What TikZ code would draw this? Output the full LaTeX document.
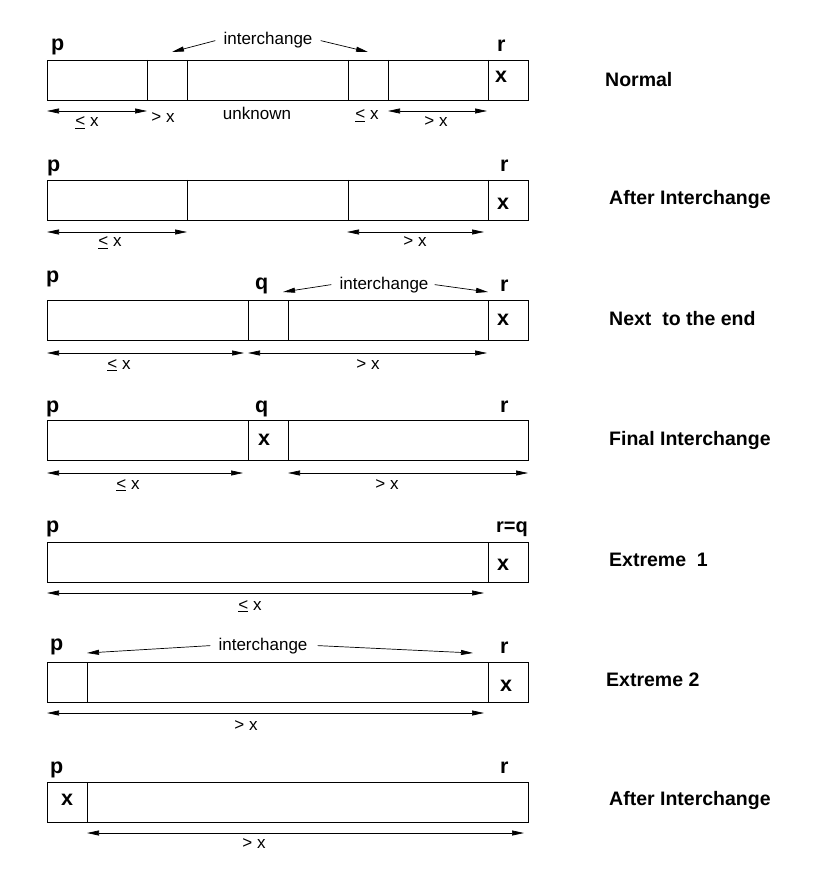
\documentclass[tikz,border=0pt]{standalone}
\usepackage{fontspec}
\setmainfont{Liberation Sans}
\usetikzlibrary{arrows.meta}

\tikzset{
  cellrow/.style={draw, line width=0.8pt},
  lbl/.style={font=\fontsize{21.5}{23}\selectfont\bfseries, inner sep=0pt, anchor=base west},
  cellx/.style={font=\fontsize{21.5}{23}\selectfont\bfseries, inner sep=0pt, anchor=base},
  note/.style={font=\fontsize{17}{19}\selectfont, inner sep=0pt, anchor=base},
  caption/.style={font=\fontsize{19.5}{22}\selectfont\bfseries, inner sep=0pt, anchor=base west},
  dim/.style={<->, line width=0.7pt},
  swap/.style={->, line width=0.7pt},
}
\newcommand{\lessq}{\underline{<}}

\begin{document}
\begin{tikzpicture}[x=1pt, y=-1pt, >={Triangle[length=12pt, width=5pt]}]
	\useasboundingbox (0,0) rectangle (827,882);

	% Normal
	\draw[cellrow] (47,60) rectangle (528,100);
	\foreach \x in {147,187,348,388,488} {\draw[cellrow] (\x,60) -- (\x,100);}
	\node[lbl] (p1) at (51,51) {p};
	\node[lbl] (r1) at (497,52) {r};
	\node[cellx] (x1) at (501,83) {x};
	\node[note] (ic1) at (268,45) {interchange};
	\coordinate (ic1l) at (172,52);
	\coordinate (ic1r) at (368,52);
	\draw[swap] ([xshift=-8pt]ic1.west) -- (ic1l);
	\draw[swap] ([xshift=8pt]ic1.east) -- (ic1r);
	\coordinate (d1a) at (47,111); \coordinate (d1b) at (147,111);
	\coordinate (d1c) at (388,111); \coordinate (d1d) at (487,111);
	\draw[dim] (d1a) -- (d1b);
	\draw[dim] (d1c) -- (d1d);
	\node[note] (n1a) at (87,127) {\lessq\ x};
	\node[note] (n1b) at (163,123) {> x};
	\node[note] (n1c) at (257,120) {unknown};
	\node[note] (n1d) at (367,120) {\lessq\ x};
	\node[note] (n1e) at (436,127) {> x};
	\node[caption] (c1) at (605,87) {Normal};

	% After Interchange
	\draw[cellrow] (47,180) rectangle (528,220);
	\foreach \x in {187,348,488} {\draw[cellrow] (\x,180) -- (\x,220);}
	\node[lbl] (p2) at (47,172) {p};
	\node[lbl] (r2) at (500,172) {r};
	\node[cellx] (x2) at (503,210) {x};
	\coordinate (d2a) at (47,232); \coordinate (d2b) at (187,232);
	\coordinate (d2c) at (347,232); \coordinate (d2d) at (484,232);
	\draw[dim] (d2a) -- (d2b);
	\draw[dim] (d2c) -- (d2d);
	\node[note] (n2a) at (110,247) {\lessq\ x};
	\node[note] (n2b) at (415,247) {> x};
	\node[caption] (c2) at (609,205) {After Interchange};

	% Next to the end
	\draw[cellrow] (47,300) rectangle (528,340);
	\foreach \x in {248,288,488} {\draw[cellrow] (\x,300) -- (\x,340);}
	\node[lbl] (p3) at (46,283) {p};
	\node[lbl] (q3) at (255,289) {q};
	\node[lbl] (r3) at (500,291) {r};
	\node[cellx] (x3) at (503,325) {x};
	\node[note] (ic3) at (384,289) {interchange};
	\coordinate (ic3l) at (283,292);
	\coordinate (ic3r) at (488,292);
	\draw[swap] ([xshift=-8pt]ic3.west) -- (ic3l);
	\draw[swap] ([xshift=6pt]ic3.east) -- (ic3r);
	\coordinate (d3a) at (47,353); \coordinate (d3b) at (244,353);
	\coordinate (d3c) at (248,353); \coordinate (d3d) at (487,353);
	\draw[dim] (d3a) -- (d3b);
	\draw[dim] (d3c) -- (d3d);
	\node[note] (n3a) at (119,369) {\lessq\ x};
	\node[note] (n3b) at (368,369) {> x};
	\node[caption] (c3) at (609,325) {Next\ \ to the end};

	% Final Interchange
	\draw[cellrow] (47,420) rectangle (528,460);
	\foreach \x in {248,288} {\draw[cellrow] (\x,420) -- (\x,460);}
	\node[lbl] (p4) at (46,412) {p};
	\node[lbl] (q4) at (255,412) {q};
	\node[lbl] (r4) at (500,412) {r};
	\node[cellx] (x4) at (264,445) {x};
	\coordinate (d4a) at (47,473); \coordinate (d4b) at (243,473);
	\coordinate (d4c) at (288,473); \coordinate (d4d) at (528,473);
	\draw[dim] (d4a) -- (d4b);
	\draw[dim] (d4c) -- (d4d);
	\node[note] (n4a) at (128,489) {\lessq\ x};
	\node[note] (n4b) at (387,489) {> x};
	\node[caption] (c4) at (609,445) {Final Interchange};

	% Extreme 1
	\draw[cellrow] (47,542) rectangle (528,582);
	\draw[cellrow] (488,542) -- (488,582);
	\node[lbl] (p5) at (46,532) {p};
	\node[lbl, font=\fontsize{20}{22}\selectfont\bfseries] (r5) at (496,532) {r=q};
	\node[cellx] (x5) at (503,570) {x};
	\coordinate (d5a) at (47,593); \coordinate (d5b) at (484,593);
	\draw[dim] (d5a) -- (d5b);
	\node[note] (n5a) at (250,610) {\lessq\ x};
	\node[caption] (c5) at (609,566) {Extreme\ \ 1};

	% Extreme 2
	\draw[cellrow] (47,662) rectangle (528,702);
	\foreach \x in {87,488} {\draw[cellrow] (\x,662) -- (\x,702);}
	\node[lbl] (p6) at (50,650) {p};
	\node[lbl] (r6) at (500,653) {r};
	\node[cellx] (x6) at (506,691) {x};
	\node[note] (ic6) at (263,650) {interchange};
	\coordinate (ic6l) at (87,653);
	\coordinate (ic6r) at (473,653);
	\draw[swap] ([xshift=-8pt]ic6.west) -- (ic6l);
	\draw[swap] ([xshift=10pt]ic6.east) -- (ic6r);
	\coordinate (d6a) at (47,713); \coordinate (d6b) at (484,713);
	\draw[dim] (d6a) -- (d6b);
	\node[note] (n6a) at (246,730) {> x};
	\node[caption] (c6) at (606,686) {Extreme 2};

	% After Interchange
	\draw[cellrow] (47,782) rectangle (528,822);
	\draw[cellrow] (87,782) -- (87,822);
	\node[lbl] (p7) at (50,773) {p};
	\node[lbl] (r7) at (500,773) {r};
	\node[cellx] (x7) at (67,805) {x};
	\coordinate (d7a) at (87,833); \coordinate (d7b) at (524,833);
	\draw[dim] (d7a) -- (d7b);
	\node[note] (n7a) at (254,848) {> x};
	\node[caption] (c7) at (609,805) {After Interchange};
\end{tikzpicture}
\end{document}
